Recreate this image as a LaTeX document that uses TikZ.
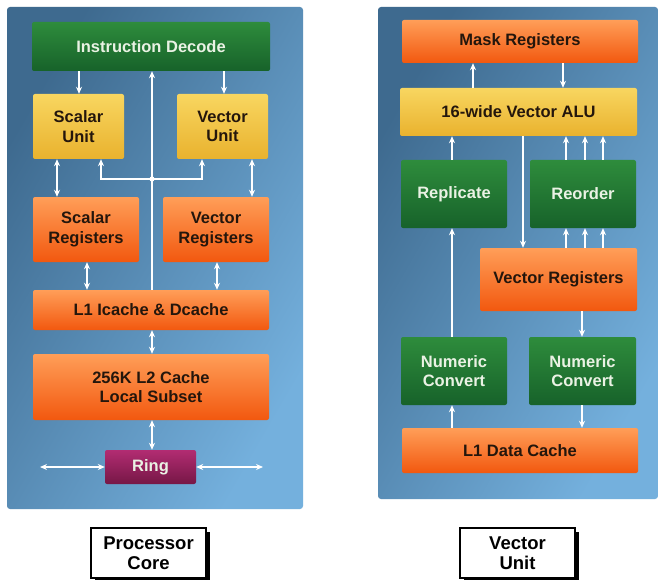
\documentclass[tikz,border=0pt]{standalone}
\usepackage{fontspec}
\setmainfont{Liberation Sans}
\usetikzlibrary{arrows.meta}
\definecolor{pnlA}{HTML}{3E6A8F}
\definecolor{pnlB}{HTML}{74B0DD}
\definecolor{grnT}{HTML}{2E8C3C}
\definecolor{grnB}{HTML}{17622A}
\definecolor{ylwT}{HTML}{F8D660}
\definecolor{ylwB}{HTML}{E9B22E}
\definecolor{orgT}{HTML}{FF9E58}
\definecolor{orgB}{HTML}{F2580F}
\definecolor{rngT}{HTML}{B22C72}
\definecolor{rngB}{HTML}{761746}
\definecolor{dtxt}{HTML}{24160C}
\definecolor{ltxt}{HTML}{EAF2E4}
\tikzset{
  base/.style={rounded corners=2pt, inner sep=0pt, align=center,
    font=\fontsize{16.5}{19.5}\selectfont\bfseries},
  grnbox/.style={base, top color=grnT, bottom color=grnB, text=ltxt},
  ylwbox/.style={base, top color=ylwT, bottom color=ylwB, text=dtxt},
  orgbox/.style={base, top color=orgT, bottom color=orgB, text=dtxt},
  rngbox/.style={base, top color=rngT, bottom color=rngB, text=ltxt},
  lblbox/.style={inner sep=0pt, align=center, draw=black, line width=1.2pt, fill=white,
    font=\fontsize{18.5}{20.5}\selectfont\bfseries, text=black},
  panel/.style={rounded corners=3pt, left color=pnlA, right color=pnlB, shading angle=60},
  arr/.style={draw=white, line width=1.3pt, -{Stealth[length=7pt,width=6pt]}},
  arrb/.style={draw=white, line width=1.3pt, {Stealth[length=7pt,width=6pt]}-{Stealth[length=7pt,width=6pt]}},
  ln/.style={draw=white, line width=1.3pt}
}
\begin{document}
\begin{tikzpicture}[x=1pt,y=-1pt]
\useasboundingbox[fill=white] (0,0) rectangle (658,580);
% panels
\shade[panel] (7,7) rectangle (303,509);
\shade[panel] (378,7) rectangle (658,499);

% ---- Processor core ----
\node[grnbox, minimum width=238pt, minimum height=49pt] (id) at (151,46.5) {Instruction Decode};
\node[ylwbox, minimum width=91pt, minimum height=65pt] (su) at (78.5,126.5) {Scalar\\Unit};
\node[ylwbox, minimum width=91pt, minimum height=65pt] (vu) at (222.5,126.5) {Vector\\Unit};
\node[orgbox, minimum width=106pt, minimum height=65pt] (sr) at (86,229.5) {Scalar\\Registers};
\node[orgbox, minimum width=106pt, minimum height=65pt] (vr) at (216,229.5) {Vector\\Registers};
\node[orgbox, minimum width=236pt, minimum height=40pt] (l1) at (151,310) {L1 Icache \& Dcache};
\node[orgbox, minimum width=236pt, minimum height=66pt] (l2) at (151,387) {256K L2 Cache\\Local Subset};
\node[rngbox, minimum width=91pt, minimum height=34pt] (ring) at (150.5,467) {Ring};
\coordinate (rl) at (40,467);
\coordinate (rr) at (263,467);
\coordinate (jct) at (152,179);

\draw[arr] (79,0 |- id.south) -- (79,0 |- su.north);
\draw[arr] (224,0 |- id.south) -- (224,0 |- vu.north);
\draw[arr] (152,0 |- l1.north) -- (152,0 |- id.south);
\draw[arrb] (101,0 |- su.south) |- (jct) -| (202,0 |- vu.south);
\fill[white] (jct) circle (2.6pt);
\draw[arrb] (57,0 |- su.south) -- (57,0 |- sr.north);
\draw[arrb] (252,0 |- vu.south) -- (252,0 |- vr.north);
\draw[arrb] (87,0 |- sr.south) -- (87,0 |- l1.north);
\draw[arrb] (217,0 |- vr.south) -- (217,0 |- l1.north);
\draw[arrb] (152,0 |- l1.south) -- (152,0 |- l2.north);
\draw[arrb] (152,0 |- l2.south) -- (152,0 |- ring.north);
\draw[arrb] (rl) -- (ring.west);
\draw[arrb] (ring.east) -- (rr);

% ---- Vector unit ----
\node[orgbox, minimum width=236pt, minimum height=43pt] (mask) at (520,41.5) {Mask Registers};
\node[ylwbox, minimum width=237pt, minimum height=48pt] (alu) at (518.5,112) {16-wide Vector ALU};
\node[grnbox, minimum width=106pt, minimum height=68pt] (rep) at (454,194) {Replicate};
\node[grnbox, minimum width=106pt, minimum height=68pt] (reo) at (583,194) {Reorder};
\node[orgbox, minimum width=157pt, minimum height=63pt] (vreg) at (558.5,279.5) {Vector Registers};
\node[grnbox, minimum width=106pt, minimum height=68pt] (ncl) at (454,371) {Numeric\\Convert};
\node[grnbox, minimum width=107pt, minimum height=68pt] (ncr) at (582.5,371) {Numeric\\Convert};
\node[orgbox, minimum width=236pt, minimum height=45pt] (l1d) at (520,450.5) {L1 Data Cache};

\draw[arr] (473,0 |- alu.north) -- (473,0 |- mask.south);
\draw[arr] (563,0 |- mask.south) -- (563,0 |- alu.north);
\draw[arr] (452,0 |- rep.north) -- (452,0 |- alu.south);
\foreach \xx in {566,585,603} {
  \draw[arr] (\xx,0 |- reo.north) -- (\xx,0 |- alu.south);
  \draw[arr] (\xx,0 |- vreg.north) -- (\xx,0 |- reo.south);
}
\draw[arr] (523,0 |- alu.south) -- (523,0 |- vreg.north);
\draw[arr] (452,0 |- ncl.north) -- (452,0 |- rep.south);
\draw[arr] (452,0 |- l1d.north) -- (452,0 |- ncl.south);
\draw[arr] (582,0 |- vreg.south) -- (582,0 |- ncr.north);
\draw[arr] (582,0 |- ncr.south) -- (582,0 |- l1d.north);

% ---- labels ----
\fill[black] (95,532) rectangle (210,582);
\node[lblbox, minimum width=115pt, minimum height=50pt] (pc) at (148.5,553) {Processor\\Core};
\fill[black] (464,532) rectangle (579,582);
\node[lblbox, minimum width=115pt, minimum height=50pt] (vul) at (517.5,553) {Vector\\Unit};
\end{tikzpicture}
\end{document}
